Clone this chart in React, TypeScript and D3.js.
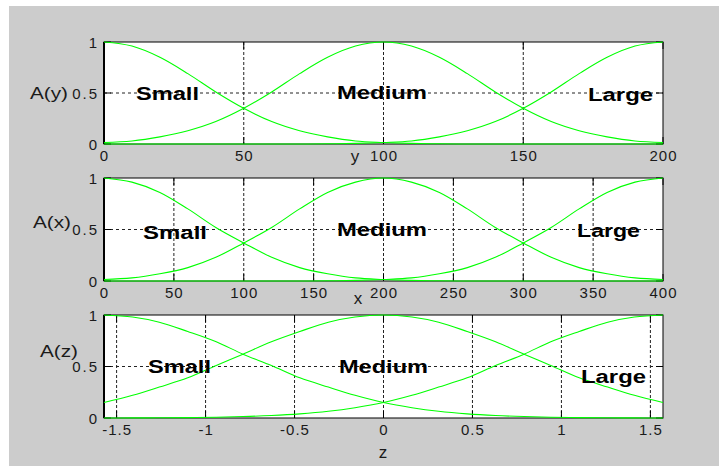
import React from 'react';
import * as d3 from 'd3';

// membership values
const yPoints = [0, 10, 20, 30, 40, 50, 60, 70, 80, 90, 100, 110, 120, 130, 140, 150, 160, 170, 180, 190, 200];
const ySmall = [1, 0.96, 0.85, 0.69, 0.51, 0.35, 0.22, 0.13, 0.07, 0.03, 0.015, 0.006, 0.002, 0, 0, 0, 0, 0, 0, 0, 0];
const yMedium = [0.015, 0.03, 0.07, 0.13, 0.22, 0.35, 0.51, 0.69, 0.85, 0.96, 1, 0.96, 0.85, 0.69, 0.51, 0.35, 0.22, 0.13, 0.07, 0.03, 0.015];
const yLarge = [0, 0, 0, 0, 0, 0, 0, 0, 0.002, 0.006, 0.015, 0.03, 0.07, 0.13, 0.22, 0.35, 0.51, 0.69, 0.85, 0.96, 1];
const yTicks = [0, 50, 100, 150, 200];

const xPoints = [0, 20, 40, 60, 80, 100, 120, 140, 160, 180, 200, 220, 240, 260, 280, 300, 320, 340, 360, 380, 400];
const xSmall = [1, 0.96, 0.86, 0.7, 0.52, 0.37, 0.23, 0.13, 0.07, 0.03, 0.015, 0.006, 0.002, 0, 0, 0, 0, 0, 0, 0, 0];
const xMedium = [0.015, 0.03, 0.07, 0.13, 0.23, 0.37, 0.52, 0.7, 0.86, 0.96, 1, 0.96, 0.86, 0.7, 0.52, 0.37, 0.23, 0.13, 0.07, 0.03, 0.015];
const xLarge = [0, 0, 0, 0, 0, 0, 0, 0, 0.002, 0.006, 0.015, 0.03, 0.07, 0.13, 0.23, 0.37, 0.52, 0.7, 0.86, 0.96, 1];
const xTicks = [0, 50, 100, 150, 200, 250, 300, 350, 400];

const zPoints = [-1.5708, -1.41, -1.26, -1.1, -0.94, -0.79, -0.63, -0.47, -0.31, -0.16, 0, 0.16, 0.31, 0.47, 0.63, 0.79, 0.94, 1.1, 1.26, 1.41, 1.5708];
const zSmall = [1, 0.98, 0.93, 0.84, 0.74, 0.62, 0.51, 0.39, 0.3, 0.22, 0.15, 0.1, 0.065, 0.04, 0.024, 0.014, 0.008, 0.004, 0.002, 0.001, 0];
const zMedium = [0.15, 0.22, 0.3, 0.39, 0.51, 0.62, 0.74, 0.84, 0.93, 0.98, 1, 0.98, 0.93, 0.84, 0.74, 0.62, 0.51, 0.39, 0.3, 0.22, 0.15];
const zLarge = [0, 0.001, 0.002, 0.004, 0.008, 0.014, 0.024, 0.04, 0.065, 0.1, 0.15, 0.22, 0.3, 0.39, 0.51, 0.62, 0.74, 0.84, 0.93, 0.98, 1];
const zTicks = [-1.5, -1, -0.5, 0, 0.5, 1, 1.5];
const zTickLabels = ['-1.5', '-1', '-0.5', '0', '0.5', '1', '1.5'];

const valueTicks = [0, 0.5, 1];
const valueTickLabels = ['0', '0.5', '1'];
const setNames = ['Small', 'Medium', 'Large'];

const FONT = '"Liberation Sans", Arial, sans-serif';
const LEFT = 104;
const RIGHT = 663;
const GREEN = '#00ff00';

type Panel = {
  pts: number[];
  series: number[][];
  domain: [number, number];
  ticks: number[];
  tickLabels: string[];
  top: number;
  bottom: number;
  yLabel: string;
  yLabelPos: [number, number];
  xLabel: string;
  xLabelPos: [number, number];
  words: [number, number, number][]; // left, baseline, width
};

const panels: Panel[] = [
  {
    pts: yPoints, series: [ySmall, yMedium, yLarge], domain: [0, 200],
    ticks: yTicks, tickLabels: yTicks.map(String), top: 42, bottom: 144,
    yLabel: 'A(y)', yLabelPos: [30, 93], xLabel: 'y', xLabelPos: [355, 162],
    words: [[136, 100, 63], [337, 99, 90], [588, 101, 65]],
  },
  {
    pts: xPoints, series: [xSmall, xMedium, xLarge], domain: [0, 400],
    ticks: xTicks, tickLabels: xTicks.map(String), top: 178, bottom: 281,
    yLabel: 'A(x)', yLabelPos: [33, 222], xLabel: 'x', xLabelPos: [358, 304],
    words: [[143, 239, 64], [337, 236, 90], [577, 237, 63]],
  },
  {
    pts: zPoints, series: [zSmall, zMedium, zLarge], domain: [-1.5708, 1.5708],
    ticks: zTicks, tickLabels: zTickLabels, top: 315, bottom: 418,
    yLabel: 'A(z)', yLabelPos: [40, 351], xLabel: 'z', xLabelPos: [383, 458],
    words: [[148, 373, 63], [339, 373, 89], [581, 383, 65]],
  },
];

const PanelView = ({ p }: { p: Panel }) => {
  const x = d3.scaleLinear().domain(p.domain).range([LEFT, RIGHT]);
  const y = d3.scaleLinear().domain([0, 1]).range([p.bottom, p.top]);
  const line = d3.line<number>()
    .x((_, i) => x(p.pts[i]))
    .y((d) => y(d))
    .curve(d3.curveMonotoneX);
  const tickLen = 7;
  return (
    <g>
      <rect x={LEFT} y={p.top} width={RIGHT - LEFT} height={p.bottom - p.top} fill="#fff" />
      {/* grid */}
      {p.ticks.filter((t) => x(t) > LEFT + 1 && x(t) < RIGHT - 1).map((t) => (
        <line key={'gx' + t} x1={x(t)} x2={x(t)} y1={p.top} y2={p.bottom}
          stroke="#222" strokeDasharray="3,2" strokeWidth={1} />
      ))}
      <line x1={LEFT} x2={RIGHT} y1={y(0.5)} y2={y(0.5)} stroke="#222" strokeDasharray="3,3" strokeWidth={1} />
      {/* ticks */}
      {p.ticks.map((t) => (
        <g key={'tk' + t}>
          <line x1={x(t)} x2={x(t)} y1={p.bottom} y2={p.bottom - tickLen} stroke="#000" />
          <line x1={x(t)} x2={x(t)} y1={p.top} y2={p.top + tickLen} stroke="#000" />
        </g>
      ))}
      {valueTicks.map((v) => (
        <g key={'vt' + v}>
          <line x1={LEFT} x2={LEFT + tickLen} y1={y(v)} y2={y(v)} stroke="#000" />
          <line x1={RIGHT} x2={RIGHT - tickLen} y1={y(v)} y2={y(v)} stroke="#000" />
        </g>
      ))}
      {/* box */}
      <rect x={LEFT} y={p.top} width={RIGHT - LEFT} height={p.bottom - p.top} fill="none" stroke="#000" strokeWidth={1} />
      <line x1={LEFT} x2={LEFT} y1={p.top} y2={p.bottom} stroke="#000" strokeWidth={2} />
      {/* curves */}
      {p.series.map((s, i) => (
        <path key={'s' + i} d={line(s) || ''} fill="none" stroke={GREEN} strokeWidth={1.1} />
      ))}
      {/* tick labels */}
      {p.ticks.map((t, i) => (
        <text key={'tl' + t} x={x(t) + 0.5} y={p.bottom + 16.5} textAnchor="middle"
          fontFamily={FONT} fontSize={15} letterSpacing={1} fill="#1a1a1a">{p.tickLabels[i]}</text>
      ))}
      {valueTicks.map((v, i) => (
        <text key={'vl' + v} x={99} y={y(v)} textAnchor="end" dominantBaseline="central"
          fontFamily={FONT} fontSize={15} letterSpacing={2} fill="#1a1a1a">{valueTickLabels[i]}</text>
      ))}
      {/* axis labels */}
      <text x={p.yLabelPos[0]} y={p.yLabelPos[1]} textLength={38} lengthAdjust="spacingAndGlyphs"
        dominantBaseline="central" fontFamily={FONT} fontSize={16} fill="#1a1a1a">{p.yLabel}</text>
      <text x={p.xLabelPos[0]} y={p.xLabelPos[1]} textAnchor="middle"
        fontFamily={FONT} fontSize={17} fill="#1a1a1a">{p.xLabel}</text>
      {/* set names */}
      {p.words.map((w, i) => (
        <text key={'w' + i} x={w[0]} y={w[1]} textLength={w[2]} lengthAdjust="spacingAndGlyphs"
          fontFamily={FONT} fontSize={18} fontWeight="bold" fill="#000">{setNames[i]}</text>
      ))}
    </g>
  );
};

export default function App() {
  return (
    <svg width={719} height={466} style={{ position: 'absolute', left: 0, top: 0 }}>
      <rect x={0} y={0} width={719} height={466} fill="#fff" />
      <rect x={9} y={6} width={710} height={460} fill="#cccccc" />
      {panels.map((p, i) => <PanelView key={i} p={p} />)}
    </svg>
  );
}
